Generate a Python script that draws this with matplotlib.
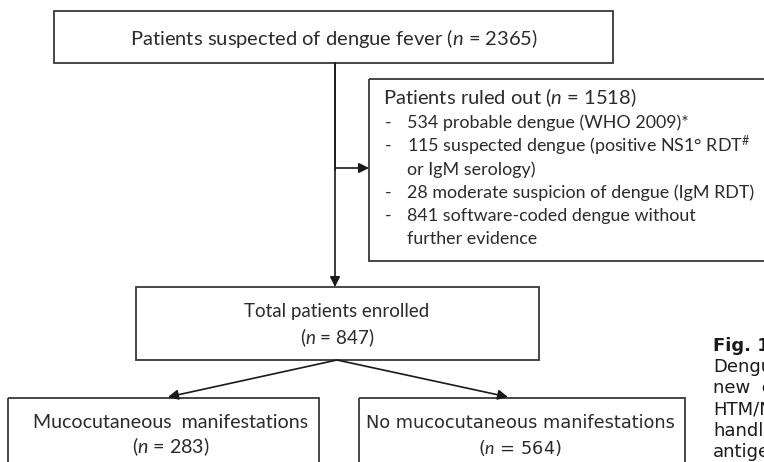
import matplotlib.pyplot as plt
from matplotlib.patches import Rectangle

# Flow chart content
n_suspected = 2365
n_ruled_out = 1518
ruled_out_counts = [534, 115, 28, 841]
ruled_out_reasons = [
    ["probable dengue (WHO 2009)*"],
    ["suspected dengue (positive NS1\u00b0 RDT$^{\\#}$", "or IgM serology)"],
    ["moderate suspicion of dengue (IgM RDT)"],
    ["software-coded dengue without", "further evidence"],
]
n_enrolled = 847
n_muco = 283
n_no_muco = 564
caption_lines = ["Dengue", "new  e", "HTM/N", "handle", "antigen"]

plt.rcParams.update({
    "font.family": "Lato",
    "mathtext.fontset": "custom",
    "mathtext.rm": "Lato",
    "mathtext.it": "Lato:italic",
})

EDGE = "#383838"
TXT = "#2b2b2b"

fig = plt.figure(figsize=(7.64, 4.62), dpi=100)
ax = fig.add_axes([0, 0, 1, 1])
ax.set_xlim(0, 764)
ax.set_ylim(462, 0)
ax.axis("off")


def box(x0, y0, x1, y1):
    ax.add_patch(Rectangle((x0, y0), x1 - x0, y1 - y0, fill=False,
                           lw=1.3, ec=EDGE, clip_on=True))


def arrow(start, end):
    ax.annotate("", xy=end, xytext=start,
                arrowprops=dict(arrowstyle="-|>", color="#1a1a1a", lw=1.2,
                                mutation_scale=15, shrinkA=0, shrinkB=0))


# top box
box(54, 11, 613, 63)
ax.text(334, 38, f"Patients suspected of dengue fever ($n$ = {n_suspected})",
        ha="center", va="center", fontsize=14.5, color=TXT)

# ruled out box (runs off the right edge)
box(369, 79, 800, 261)
ax.text(383, 98, f"Patients ruled out ($n$ = {n_ruled_out})",
        ha="left", va="center", fontsize=14.5, color=TXT)
y = 123
for cnt, reason in zip(ruled_out_counts, ruled_out_reasons):
    ax.text(385, y, "-", ha="left", va="center", fontsize=12.9, color=TXT)
    ax.text(407, y, f"{cnt} {reason[0]}", ha="left", va="center",
            fontsize=12.9, color=TXT)
    y += 23.2
    for extra in reason[1:]:
        ax.text(407, y, extra, ha="left", va="center", fontsize=12.9, color=TXT)
        y += 23.2

# arrows from top box
ax.plot([335, 335], [63, 170], color="#1a1a1a", lw=1.2)
arrow((335, 168), (369, 168))
arrow((335, 63), (335, 287))

# enrolled box
box(136, 287, 539, 360)
ax.text(337, 312, "Total patients enrolled", ha="center", va="center",
        fontsize=13.5, color=TXT)
ax.text(337, 338, f"($n$ = {n_enrolled})", ha="center", va="center",
        fontsize=13.5, color=TXT)

# split arrows
arrow((337, 360), (168, 397))
arrow((337, 360), (508, 397))

# lower boxes (run off the bottom edge)
box(8, 398, 319, 480)
ax.text(171, 422, "Mucocutaneous  manifestations", ha="center", va="center",
        fontsize=14.1, color=TXT)
ax.text(171, 447, f"($n$ = {n_muco})", ha="center", va="center",
        fontsize=14.1, color=TXT)

box(359, 398, 685, 480)
ax.text(520, 423, "No mucocutaneous manifestations", ha="center", va="center",
        fontsize=12.8, color=TXT, family="DejaVu Sans")
ax.text(520, 448, f"($n$ = {n_no_muco})", ha="center", va="center",
        fontsize=12.8, color=TXT, family="DejaVu Sans")

# clipped figure caption on the right
ax.text(713, 346, "Fig. 1", ha="left", va="center", fontsize=13,
        fontweight="bold", color="#1a1a1a", family="DejaVu Sans")
for i, line in enumerate(caption_lines):
    ax.text(713, 367 + 21.3 * i, line, ha="left", va="center", fontsize=13,
            color="#1a1a1a", family="DejaVu Sans")

fig.savefig("out.png", dpi=100)
